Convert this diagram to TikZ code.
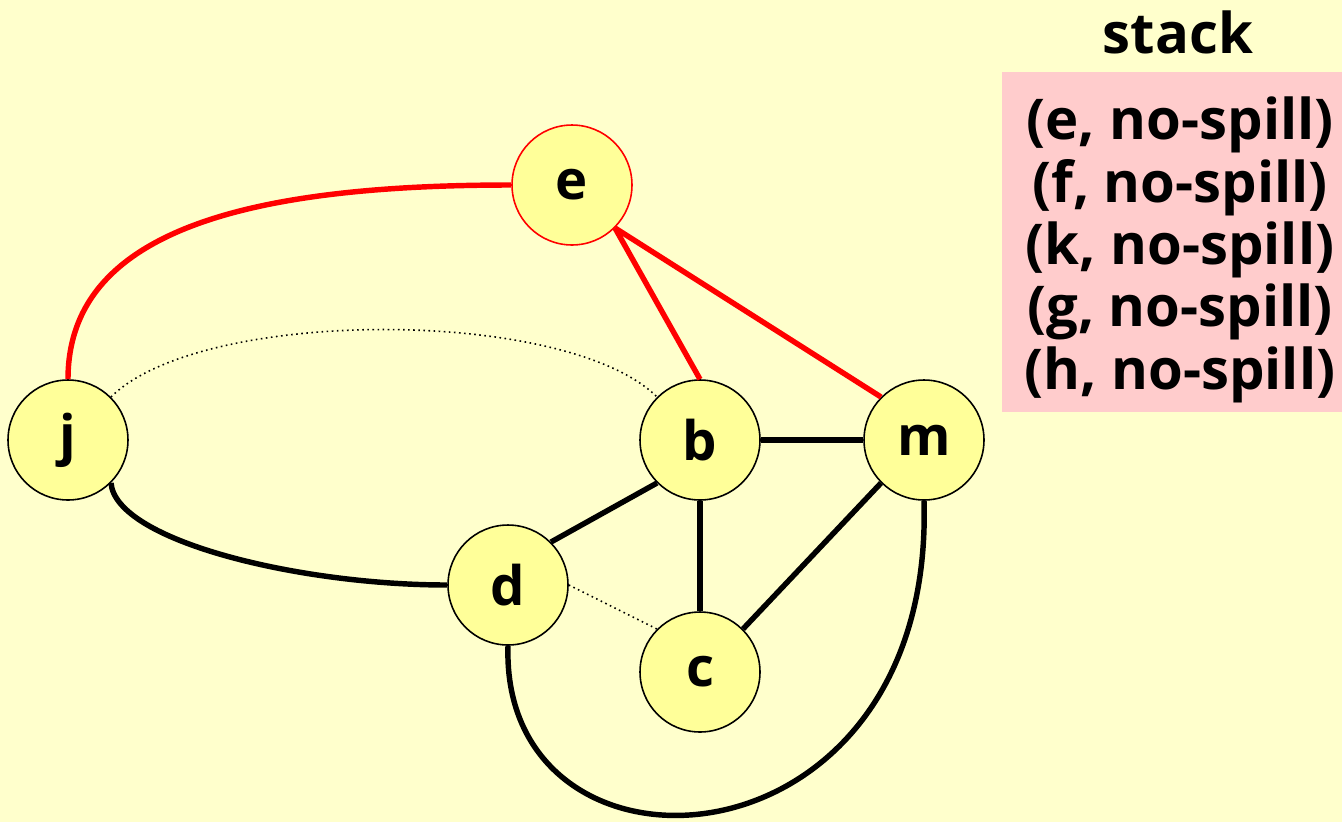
\documentclass[tikz,border=0pt]{standalone}
\usepackage{fontspec}
\setmainfont{Open Sans}
\usetikzlibrary{positioning}
\definecolor{bgyellow}{HTML}{FFFFCC}
\definecolor{nodeyellow}{HTML}{FFFF99}
\definecolor{stackpink}{HTML}{FFCCCC}

\begin{document}
\begin{tikzpicture}[
            x=0.02cm, y=-0.02cm,
            vertex/.style={circle, draw=black, fill=nodeyellow, line width=0.9pt, minimum size=2.4cm, inner sep=0pt, font=\fontsize{31}{34}\selectfont\bfseries},
            edge/.style={line width=3.1pt, black},
            spilled/.style={line width=3.1pt, red},
            coalesce/.style={line width=0.9pt, dotted, black}
        ]
            \fill[bgyellow] (0,0) rectangle (1342,822);
            \useasboundingbox (0,0) rectangle (1342,822);

            % interference graph
            \node[vertex, draw=red] (e) at (572, 185) {e};
            \node[vertex] (j) at (68, 440) {j};
            \node[vertex] (b) at (700, 440) {b};
            \node[vertex] (m) at (924, 440) {m};
            \node[vertex] (d) at (508, 585) {d};
            \node[vertex] (c) at (700, 672) {c};

            \draw[spilled] (j.north) .. controls +(0,-150) and +(-260,0) .. (e.west);
            \draw[spilled] (e.south east) -- (b.north);
            \draw[spilled] (e.south east) -- (m.north west);

            \draw[coalesce] (j.north east) .. controls +(90,-90) and +(-90,-90) .. (b.north west);
            \draw[coalesce] (d.east) -- (c.north west);

            \draw[edge] (j.south east) .. controls +(5,58) and +(-148,0) .. (d.west);
            \draw[edge] (b) -- (m);
            \draw[edge] (b.south west) -- (d.north east);
            \draw[edge] (b) -- (c);
            \draw[edge] (m.south west) -- (c.north east);
            \draw[edge] (d.south) .. controls +(-8,255) and +(11,380) .. (m.south);

            % stack
            \node[font=\fontsize{32}{36}\selectfont\bfseries] (title) at (1178, 32) {stack};
            \fill[stackpink] (1002, 72) rectangle (1342, 412);
            \node[align=center, inner sep=0pt, font=\fontsize{32}{35.5}\selectfont\bfseries] (stack) at (1180, 250)
                {(e, no-spill)\\(f, no-spill)\\(k, no-spill)\\(g, no-spill)\\(h, no-spill)};
        \end{tikzpicture}
\end{document}
